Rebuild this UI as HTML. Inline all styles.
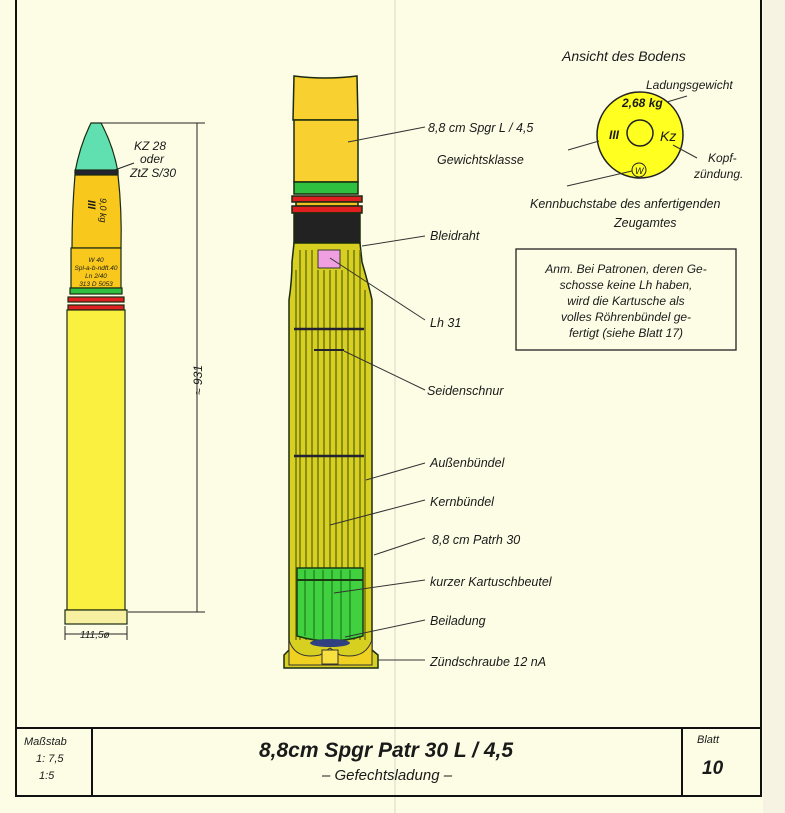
<!DOCTYPE html>
<html><head><meta charset="utf-8"><style>
html,body{margin:0;padding:0;background:#fdfde6;}
svg{display:block;font-family:"Liberation Sans",sans-serif;}
text{font-style:italic;fill:#1a1a1a;}
</style></head><body>
<svg width="785" height="813" viewBox="0 0 785 813" xmlns="http://www.w3.org/2000/svg">
<rect width="785" height="813" fill="#fdfde6"/>
<rect x="763" y="0" width="22" height="813" fill="#f6f3e2"/>
<line x1="395" y1="0" x2="395" y2="813" stroke="#d8d8c8" stroke-width="1"/>
<line x1="16" y1="0" x2="16" y2="796" stroke="#111" stroke-width="2"/>
<line x1="761" y1="0" x2="761" y2="796" stroke="#111" stroke-width="2"/>
<!-- title block -->
<rect x="16" y="728" width="745" height="68" fill="none" stroke="#111" stroke-width="2"/>
<line x1="92" y1="728" x2="92" y2="796" stroke="#111" stroke-width="2"/>
<line x1="682" y1="728" x2="682" y2="796" stroke="#111" stroke-width="2"/>
<text x="24" y="745" font-size="11">Maßstab</text>
<text x="36" y="762" font-size="11">1: 7,5</text>
<text x="39" y="779" font-size="11">1:5</text>
<text x="386" y="757" font-size="21" font-weight="bold" text-anchor="middle">8,8cm Spgr Patr 30 L / 4,5</text>
<text x="387" y="780" font-size="15" text-anchor="middle">– Gefechtsladung –</text>
<text x="697" y="743" font-size="11">Blatt</text>
<text x="702" y="774" font-size="19" font-weight="bold">10</text>

<!-- LEFT SHELL -->
<g stroke="#1a2a10" stroke-width="1.2">
<path d="M91,123 L101,123 Q113,145 118,172 L75,172 Q80,145 91,123Z" fill="#60e0b0"/>
<rect x="75" y="170" width="43" height="5" fill="#223"/>
<path d="M75,175 L118,175 Q122,210 121,248 L72,248 Q72,210 75,175Z" fill="#f8c81c"/>
<rect x="71" y="248" width="50" height="40" fill="#f8c81c"/>
<rect x="70" y="288" width="52" height="6" fill="#30c040"/>
<rect x="68" y="297" width="56" height="5" fill="#e02020"/>
<rect x="68" y="305" width="56" height="5" fill="#e02020"/>
<rect x="67" y="310" width="58" height="300" fill="#faf040"/>
<rect x="65" y="610" width="62" height="14" fill="#f6f0a0"/>
</g>
<g font-size="6.5" font-style="normal" text-anchor="middle">
<text x="96" y="262">W 40</text><text x="96" y="270">Spl-a-b-ndft.40</text><text x="96" y="278">Ln 2/40</text><text x="96" y="286">313 D 5053</text>
</g>
<text x="88" y="200" font-size="11" font-weight="bold" transform="rotate(90 88 200)">III</text>
<text x="100" y="198" font-size="9" transform="rotate(90 100 198)">9,0 kg</text>
<text x="134" y="150" font-size="12">KZ 28</text>
<text x="140" y="163" font-size="12">oder</text>
<text x="130" y="177" font-size="12">ZtZ S/30</text>
<line x1="112" y1="171" x2="134" y2="163" stroke="#222"/>
<!-- dims -->
<line x1="100" y1="123" x2="205" y2="123" stroke="#222"/>
<line x1="128" y1="612" x2="205" y2="612" stroke="#222"/>
<line x1="197" y1="123" x2="197" y2="612" stroke="#222"/>
<text x="202" y="395" font-size="12" transform="rotate(-90 202 395)">≈ 931</text>
<line x1="65" y1="626" x2="65" y2="640" stroke="#222"/><line x1="127" y1="626" x2="127" y2="640" stroke="#222"/>
<line x1="65" y1="634" x2="127" y2="634" stroke="#222"/>
<text x="80" y="638" font-size="10" font-style="normal" fill="#222">111,5ø</text>

<!-- CENTER CARTRIDGE -->
<g stroke="#1a2a10" stroke-width="1.5">
<path d="M294,76 Q325,80 357,76 L358,120 L293,120Z" fill="#f8d030"/>
<rect x="294" y="120" width="64" height="62" fill="#f8d030"/>
<rect x="294" y="182" width="64" height="12" fill="#30c040"/>
<rect x="292" y="196" width="70" height="6" fill="#e02020"/>
<rect x="296" y="202" width="62" height="4" fill="#f0c020"/>
<rect x="292" y="206" width="70" height="7" fill="#e02020"/>
<rect x="294" y="213" width="66" height="30" fill="#222"/>
<path d="M294,243 L360,243 L362,262 Q370,290 372,300 L372,650 L378,655 L378,668 L284,668 L284,655 L289,650 L289,300 Q292,280 292,262Z" fill="#d8d020"/>
</g>
<g stroke="#6a7010" stroke-width="1.4">
<line x1="300" y1="250" x2="300" y2="640"/><line x1="306" y1="250" x2="306" y2="640"/><line x1="312" y1="250" x2="312" y2="640"/><line x1="318" y1="270" x2="318" y2="640"/><line x1="324" y1="270" x2="324" y2="640"/><line x1="330" y1="270" x2="330" y2="640"/><line x1="336" y1="270" x2="336" y2="640"/><line x1="342" y1="270" x2="342" y2="640"/><line x1="348" y1="250" x2="348" y2="640"/><line x1="354" y1="250" x2="354" y2="640"/><line x1="360" y1="250" x2="360" y2="640"/><line x1="296" y1="270" x2="296" y2="640"/><line x1="365" y1="290" x2="365" y2="640"/>
</g>
<rect x="318" y="250" width="22" height="18" fill="#f0a0e0" stroke="#333"/>
<line x1="294" y1="329" x2="364" y2="329" stroke="#223" stroke-width="2.5"/>
<line x1="314" y1="350" x2="344" y2="350" stroke="#223" stroke-width="2"/>
<line x1="294" y1="456" x2="364" y2="456" stroke="#223" stroke-width="2.5"/>
<path d="M297,568 L363,568 L363,636 Q330,646 297,636Z" fill="#40d040" stroke="#1a3a10" stroke-width="1.5"/>
<g stroke="#157015" stroke-width="1"><line x1="305" y1="570" x2="305" y2="636"/><line x1="314" y1="570" x2="314" y2="640"/><line x1="323" y1="570" x2="323" y2="642"/><line x1="332" y1="570" x2="332" y2="642"/><line x1="341" y1="570" x2="341" y2="640"/><line x1="350" y1="570" x2="350" y2="638"/></g>
<line x1="297" y1="580" x2="363" y2="580" stroke="#1a3a10" stroke-width="2"/>
<ellipse cx="330" cy="643" rx="20" ry="4" fill="#304080"/>
<path d="M289,640 Q295,660 320,655 L330,648 L340,655 Q365,660 372,640 L372,665 L289,665Z" fill="#f0d020" stroke="#333"/>
<rect x="322" y="650" width="16" height="14" fill="#f8e040" stroke="#333"/>

<!-- leaders -->
<g stroke="#333" stroke-width="1" fill="none">
<line x1="348" y1="142" x2="425" y2="127"/>
<line x1="362" y1="246" x2="425" y2="236"/>
<line x1="330" y1="258" x2="425" y2="320"/>
<line x1="344" y1="351" x2="425" y2="390"/>
<line x1="366" y1="480" x2="425" y2="463"/>
<line x1="330" y1="525" x2="425" y2="500"/>
<line x1="374" y1="555" x2="425" y2="538"/>
<line x1="334" y1="593" x2="425" y2="580"/>
<line x1="345" y1="637" x2="425" y2="620"/>
<line x1="378" y1="660" x2="425" y2="660"/>
</g>
<g font-size="12.5">
<text x="428" y="132">8,8 cm Spgr L / 4,5</text>
<text x="437" y="164">Gewichtsklasse</text>
<text x="430" y="240">Bleidraht</text>
<text x="430" y="327">Lh 31</text>
<text x="427" y="395">Seidenschnur</text>
<text x="430" y="467">Außenbündel</text>
<text x="430" y="506">Kernbündel</text>
<text x="432" y="544">8,8 cm Patrh 30</text>
<text x="430" y="586">kurzer Kartuschbeutel</text>
<text x="430" y="625">Beiladung</text>
<text x="430" y="666">Zündschraube 12 nA</text>
</g>

<!-- base view -->
<text x="562" y="61" font-size="14">Ansicht des Bodens</text>
<text x="646" y="89" font-size="12">Ladungsgewicht</text>
<circle cx="640" cy="135" r="43" fill="#ffff20" stroke="#222" stroke-width="1.5"/>
<circle cx="640" cy="133" r="13" fill="none" stroke="#222" stroke-width="1.5"/>
<text x="622" y="107" font-size="12" font-weight="bold" font-style="normal">2,68 kg</text>
<text x="609" y="139" font-size="12" font-weight="bold" font-style="normal">III</text>
<text x="660" y="141" font-size="14" font-style="normal">Kz</text>
<circle cx="639" cy="170" r="7" fill="none" stroke="#222"/>
<text x="635" y="174" font-size="9" font-style="normal">W</text>
<g stroke="#333"><line x1="667" y1="102" x2="687" y2="96"/><line x1="568" y1="150" x2="599" y2="141"/><line x1="673" y1="145" x2="697" y2="158"/><line x1="567" y1="186" x2="632" y2="171"/></g>
<text x="708" y="162" font-size="12">Kopf-</text>
<text x="694" y="178" font-size="12">zündung.</text>
<text x="530" y="208" font-size="12.5">Kennbuchstabe des anfertigenden</text>
<text x="614" y="227" font-size="12.5">Zeugamtes</text>
<rect x="516" y="249" width="220" height="101" fill="none" stroke="#222" stroke-width="1.3"/>
<g font-size="12" text-anchor="middle">
<text x="626" y="273">Anm. Bei Patronen, deren Ge-</text>
<text x="626" y="289">schosse keine Lh haben,</text>
<text x="626" y="305">wird die Kartusche als</text>
<text x="626" y="321">volles Röhrenbündel ge-</text>
<text x="626" y="337">fertigt (siehe Blatt 17)</text>
</g>
</svg>
</body></html>
